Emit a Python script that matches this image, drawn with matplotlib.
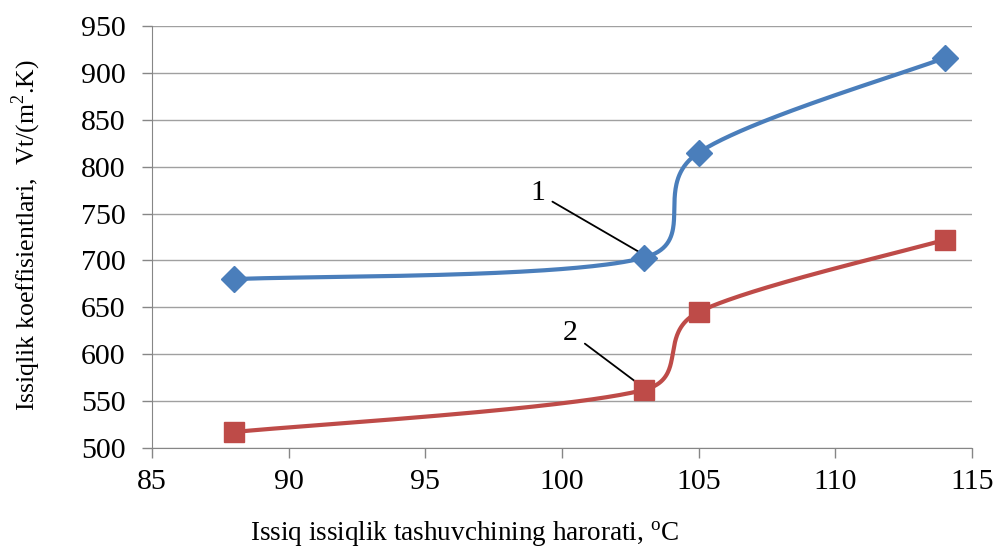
import numpy as np
import matplotlib.pyplot as plt

# temperature of hot heat carrier, C
temp = [88, 103, 105, 114]
# heat transfer coefficients, W/(m2.K)
coef_1 = [680, 703, 815, 916]
coef_2 = [517, 562, 645, 722]

xlim = (85, 115)
ylim = (500, 950)
W, H = 820, 422  # plot area in pixels


def smooth_line(x, y, n=80):
    """Smoothed line like the spreadsheet one: cubic Bezier segments,
    handle = (next - prev)/6 but never longer than half the segment."""
    px = (np.asarray(x, float) - xlim[0]) / (xlim[1] - xlim[0]) * W
    py = (np.asarray(y, float) - ylim[0]) / (ylim[1] - ylim[0]) * H
    pts = np.column_stack([px, py])
    ext = np.vstack([pts[0], pts, pts[-1]])
    t = np.linspace(0, 1, n)[:, None]
    out = []
    for i in range(len(pts) - 1):
        p0, p1, p2, p3 = ext[i], ext[i + 1], ext[i + 2], ext[i + 3]
        d12 = np.hypot(*(p2 - p1))
        t1 = p2 - p0
        t2 = p3 - p1
        n1 = np.hypot(*t1)
        n2 = np.hypot(*t2)
        c1 = p1 + t1 / n1 * min(n1 / 6, d12 / 2)
        c2 = p2 - t2 / n2 * min(n2 / 6, d12 / 2)
        seg = ((1 - t) ** 3) * p1 + 3 * ((1 - t) ** 2) * t * c1 + 3 * (1 - t) * t ** 2 * c2 + t ** 3 * p2
        out.append(seg)
    out = np.vstack(out)
    sx = out[:, 0] / W * (xlim[1] - xlim[0]) + xlim[0]
    sy = out[:, 1] / H * (ylim[1] - ylim[0]) + ylim[0]
    return sx, sy


plt.rcParams['font.family'] = ['Liberation Serif', 'DejaVu Serif']
plt.rcParams['mathtext.fontset'] = 'custom'
plt.rcParams['mathtext.rm'] = 'Liberation Serif'

fig = plt.figure(figsize=(9.96, 5.49), dpi=100)
ax = fig.add_axes([152 / 996, 1 - 448 / 549, W / 996, H / 549])

blue = '#4a7ebb'
red = '#be4b48'

sx, sy = smooth_line(temp, coef_1)
ax.plot(sx, sy, color=blue, lw=3, zorder=3, solid_capstyle='round')
ax.plot(temp, coef_1, 'D', color=blue, ms=13, zorder=4)

sx, sy = smooth_line(temp, coef_2)
ax.plot(sx, sy, color=red, lw=3, zorder=3, solid_capstyle='round')
ax.plot(temp, coef_2, 's', color=red, ms=15, zorder=4)

ax.set_xlim(xlim)
ax.set_ylim(ylim)
ax.set_xticks(np.arange(85, 116, 5))
ax.set_yticks(np.arange(500, 951, 50))
ax.yaxis.grid(True, color='#a0a0a0', lw=1)
ax.set_axisbelow(True)

for s in ['top', 'right']:
    ax.spines[s].set_visible(False)
ax.spines['left'].set_color('#868686')
ax.spines['bottom'].set_color('#868686')
ax.tick_params(axis='both', colors='#868686', labelcolor='black', labelsize=21.5,
               width=1, direction='out')
ax.tick_params(axis='y', length=7, pad=12)
ax.tick_params(axis='x', length=7, pad=8)

ax.annotate('1', xy=(103.0, 706), xytext=(99.1, 772), fontsize=21.5,
            ha='center', va='center',
            arrowprops=dict(arrowstyle='-', color='black', lw=1.3, shrinkA=4, shrinkB=0))
ax.annotate('2', xy=(103.0, 564), xytext=(100.3, 623), fontsize=21.5,
            ha='center', va='center',
            arrowprops=dict(arrowstyle='-', color='black', lw=1.3, shrinkA=4, shrinkB=0))

fig.text(26 / 996, 1 - 235 / 549, 'Issiqlik koeffisientlari,  Vt/(m$^2$.K)', rotation=90,
         ha='center', va='center', fontsize=18.5)
fig.text(465 / 996, 1 - 541 / 549, 'Issiq issiqlik tashuvchining harorati, $^{\\mathrm{o}}$C',
         ha='center', va='baseline', fontsize=19.5)

fig.savefig('out.png', dpi=100)
